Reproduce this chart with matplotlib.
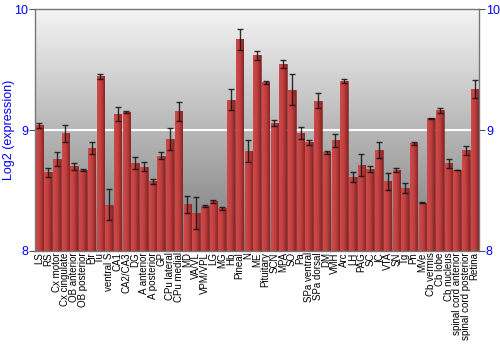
import numpy as np
import matplotlib
matplotlib.use('Agg')
import matplotlib.pyplot as plt
from matplotlib.colors import LinearSegmentedColormap

regions = ['LS', 'RS', 'Cx motor', 'Cx cingulate', 'OB anterior', 'OB posterior',
           'Pir', 'Tu', 'ventral S', 'CA1', 'CA2/CA3', 'DG', 'A anterior',
           'A posterior', 'GP', 'CPu lateral', 'CPu medial', 'MD', 'VA/VL',
           'VPM/VPL', 'LG', 'MG', 'Hb', 'Pineal', 'N', 'ME', 'Pituitary', 'SCN',
           'MPA', 'SO', 'Pa', 'SPa ventral', 'SPa dorsal', 'DM', 'VMH', 'Arc',
           'LH', 'PAG', 'SC', 'IC', 'VTA', 'SN', 'Tg', 'Pn', 'MVe', 'Cb vermis',
           'Cb lobe', 'Cb nucleus', 'spinal cord anterior',
           'spinal cord posterior', 'Retina']

expression = [9.04, 8.65, 8.76, 8.975, 8.70, 8.67, 8.85, 9.446, 8.383, 9.135,
              9.151, 8.727, 8.697, 8.578, 8.79, 8.928, 9.157, 8.388, 8.314,
              8.372, 8.41, 8.353, 9.254, 9.752, 8.826, 9.62, 9.397, 9.06,
              9.551, 9.336, 8.975, 8.90, 9.242, 8.818, 8.917, 9.41, 8.61,
              8.711, 8.678, 8.835, 8.578, 8.67, 8.52, 8.89, 8.40, 9.097,
              9.165, 8.727, 8.67, 8.832, 9.34]

error = [0.02, 0.04, 0.06, 0.07, 0.026, 0.012, 0.05, 0.022, 0.13, 0.055,
         0.005, 0.047, 0.036, 0.02, 0.03, 0.09, 0.08, 0.07, 0.136, 0.007,
         0.01, 0.015, 0.085, 0.09, 0.09, 0.04, 0.012, 0.028, 0.034, 0.13,
         0.052, 0.022, 0.062, 0.012, 0.055, 0.018, 0.043, 0.09, 0.028,
         0.065, 0.07, 0.014, 0.044, 0.014, 0.006, 0.006, 0.02, 0.036,
         0.003, 0.04, 0.077]

yticks = [8, 9, 10]

plt.rcParams['font.family'] = ['Liberation Sans', 'DejaVu Sans']

fig = plt.figure(figsize=(5, 3.5), dpi=100)
ax = fig.add_axes([0.07, 0.283, 0.888, 0.69])

x = np.arange(len(regions))
ax.set_xlim(-0.5, len(regions) - 0.5)
ax.set_ylim(8, 10)

# grey background gradient
bg = LinearSegmentedColormap.from_list('bg', ['#7a7a7a', '#f4f4f4'])
ax.imshow(np.linspace(0, 1, 256).reshape(-1, 1), cmap=bg, aspect='auto',
          origin='lower', extent=(0, 1, 0, 1), transform=ax.transAxes, zorder=0)
ax.axhline(9, color='white', lw=1.5, zorder=1)

# bars with a horizontal red shading
shade = LinearSegmentedColormap.from_list('bar', ['#cf4a4a', '#c04040', '#8a2424'])
grad = np.linspace(0, 1, 64).reshape(1, -1)
bars = ax.bar(x, [v - 8 for v in expression], bottom=8, width=0.86,
              color='#b83c3c', edgecolor='#7a2020', linewidth=0.4, zorder=2)
for b in bars:
    im = ax.imshow(grad, cmap=shade, aspect='auto',
                   extent=(b.get_x(), b.get_x() + b.get_width(), 8, b.get_y() + b.get_height()),
                   zorder=2.5)
    im.set_clip_path(b)

ax.errorbar(x, expression, yerr=error, fmt='none', ecolor='#111111', elinewidth=1,
            capsize=2, capthick=1, alpha=0.85, zorder=3)

ax.set_xticks(x)
ax.set_xticklabels(regions, rotation=90, fontsize=7)
ax.tick_params(axis='x', length=0, pad=1)
ax.set_yticks(yticks)
ax.set_yticklabels([str(t) for t in yticks])
ax.tick_params(axis='y', colors='#555555', labelcolor='blue', labelsize=9,
               length=4, right=True, labelright=True, pad=1)
ax.set_ylabel('Log2 (expression)', color='blue', fontsize=9)
ax.yaxis.set_label_coords(-0.045, 0.5)

for s in ax.spines.values():
    s.set_color('#777777')
    s.set_linewidth(1)

fig.savefig('out.png', dpi=100)
